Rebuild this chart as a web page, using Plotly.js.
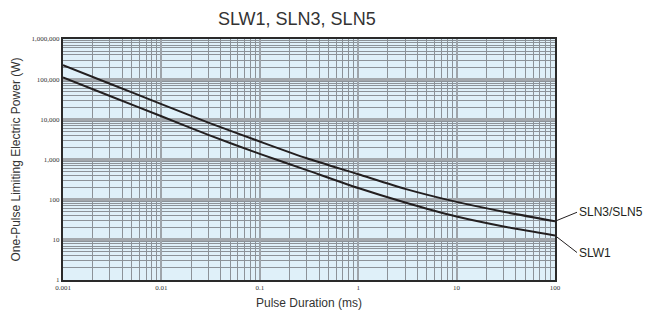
<!DOCTYPE html>
<html>
<head>
<meta charset="utf-8">
<script src="https://cdn.plot.ly/plotly-3.0.1.min.js"></script>
<style>html,body{margin:0;padding:0;background:#fff;}#chart{width:648px;height:313px;}</style>
</head>
<body>
<div id="chart"></div>
<script>
// Pulse duration (ms)
const pulseDuration = [0.001, 0.003, 0.01, 0.03, 0.1, 0.3, 1, 3, 10, 30, 100];
// One-pulse limiting electric power (W)
const slnPower = [224000, 77000, 24000, 8300, 2800, 1070, 430, 186, 88, 50, 29];
const slwPower = [110000, 38000, 11900, 4100, 1380, 545, 195, 85, 38, 21.5, 12.8];

const xTickVals = [0.001, 0.01, 0.1, 1, 10, 100];
const xTickText = ["0.001", "0.01", "0.1", "1", "10", "100"];
const yTickVals = [1, 10, 100, 1000, 10000, 100000, 1000000];
const yTickText = ["1", "10", "100", "1,000", "10,000", "100,000", "1,000,000"];

function minorVals(lo, hi) {
  const v = [];
  for (let e = lo; e < hi; e++) for (let m = 2; m <= 9; m++) v.push(m * Math.pow(10, e));
  return v;
}

const lineStyle = {color: '#231f20', width: 2};
const traces = [
  {x: pulseDuration, y: slnPower, mode: 'lines', name: 'SLN3/SLN5', line: Object.assign({shape: 'spline', smoothing: 0.6}, lineStyle), hoverinfo: 'x+y'},
  {x: pulseDuration, y: slwPower, mode: 'lines', name: 'SLW1', line: Object.assign({shape: 'spline', smoothing: 0.6}, lineStyle), hoverinfo: 'x+y'}
];

const tickFont = {family: 'Liberation Serif, DejaVu Serif, serif', size: 7, color: '#333'};
const layout = {
  width: 648, height: 313,
  margin: {l: 63, r: 93, t: 39, b: 33, pad: 0},
  paper_bgcolor: '#ffffff',
  plot_bgcolor: '#dff0f9',
  showlegend: false,
  title: {text: 'SLW1, SLN3, SLN5', x: 0.458, xanchor: 'center', y: 0.94, yanchor: 'middle', yref: 'container',
          font: {family: 'Liberation Sans, Arial, sans-serif', size: 18, color: '#333'}},
  xaxis: {
    type: 'log', range: [-3, 2], tickmode: 'array', tickvals: xTickVals, ticktext: xTickText,
    tickfont: tickFont, ticks: '', ticklen: 0,
    showgrid: true, gridcolor: '#9ea4aa', gridwidth: 2,
    showline: true, linecolor: '#2a2a2a', linewidth: 2, mirror: true,
    zeroline: false,
    minor: {tickmode: 'array', tickvals: minorVals(-3, 2), showgrid: true, gridcolor: '#8c9298', gridwidth: 1, ticks: ''},
    title: {text: 'Pulse Duration (ms)', standoff: 7, font: {family: 'Liberation Sans, Arial, sans-serif', size: 12, color: '#333'}}
  },
  yaxis: {
    type: 'log', range: [0, 6], tickmode: 'array', tickvals: yTickVals, ticktext: yTickText,
    tickfont: tickFont, ticks: '', ticklen: 0,
    showgrid: true, gridcolor: '#a3a8ad', gridwidth: 3,
    showline: true, linecolor: '#2a2a2a', linewidth: 2, mirror: true,
    zeroline: false,
    minor: {tickmode: 'array', tickvals: minorVals(0, 6), showgrid: true, gridcolor: '#8c9298', gridwidth: 1, ticks: ''},
    title: {text: 'One-Pulse Limiting Electric Power (W)', standoff: 8, font: {family: 'Liberation Sans, Arial, sans-serif', size: 12, color: '#333'}}
  },
  annotations: [
    {x: Math.log10(pulseDuration[pulseDuration.length - 1]), y: Math.log10(slnPower[slnPower.length - 1]), xref: 'x', yref: 'y',
     text: 'SLN3/SLN5', showarrow: true, arrowhead: 0, arrowwidth: 1, arrowcolor: '#231f20', ax: 22, ay: -9, xanchor: 'left', yanchor: 'middle',
     font: {family: 'Liberation Sans, Arial, sans-serif', size: 12, color: '#231f20'}},
    {x: Math.log10(pulseDuration[pulseDuration.length - 1]), y: Math.log10(slwPower[slwPower.length - 1]), xref: 'x', yref: 'y',
     text: 'SLW1', showarrow: true, arrowhead: 0, arrowwidth: 1, arrowcolor: '#231f20', ax: 22, ay: 17, xanchor: 'left', yanchor: 'middle',
     font: {family: 'Liberation Sans, Arial, sans-serif', size: 12, color: '#231f20'}}
  ]
};

Plotly.newPlot('chart', traces, layout, {displayModeBar: false, staticPlot: true});
</script>
</body>
</html>
